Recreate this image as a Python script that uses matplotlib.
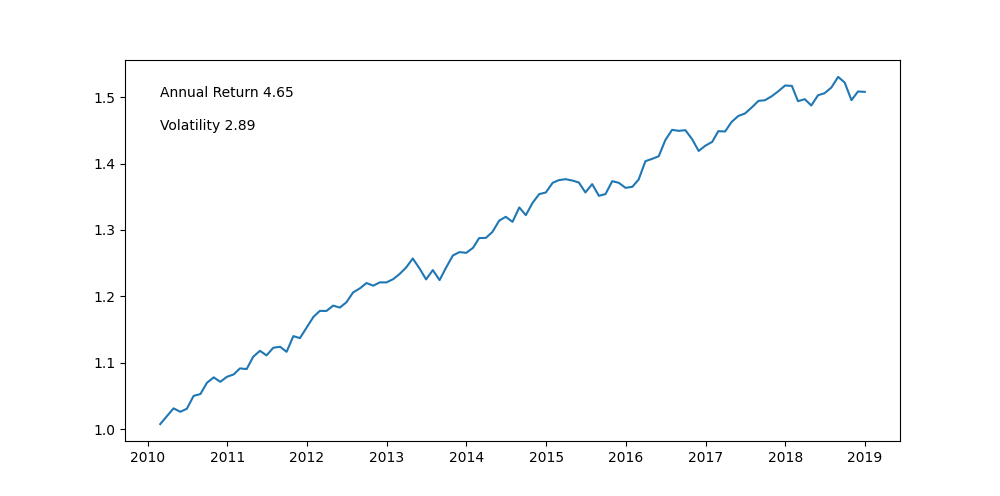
import numpy as np
import pandas as pd
import matplotlib
matplotlib.use("Agg")
import matplotlib.pyplot as plt

# monthly cumulative value, Feb 2010 - Dec 2018
values = [
    1.0075, 1.0196, 1.0312, 1.0260, 1.0306, 1.0500, 1.0527, 1.0697, 1.0779, 1.0712,
    1.0788, 1.0824, 1.0914, 1.0904, 1.1089, 1.1179, 1.1110, 1.1225, 1.1240, 1.1164,
    1.1400, 1.1370, 1.1530, 1.1690, 1.1780, 1.1780, 1.1860, 1.1830, 1.1910, 1.2060,
    1.2120, 1.2200, 1.2160, 1.2210, 1.2210, 1.2260, 1.2334, 1.2435, 1.2570, 1.2420,
    1.2255, 1.2395, 1.2244, 1.2435, 1.2616, 1.2666, 1.2655, 1.2730, 1.2877, 1.2880,
    1.2970, 1.3140, 1.3198, 1.3122, 1.3339, 1.3223, 1.3408, 1.3539, 1.3565, 1.3710,
    1.3750, 1.3765, 1.3745, 1.3715, 1.3565, 1.3690, 1.3514, 1.3540, 1.3735, 1.3710,
    1.3634, 1.3650, 1.3760, 1.4036, 1.4070, 1.4110, 1.4352, 1.4508, 1.4493, 1.4503,
    1.4367, 1.4190, 1.4270, 1.4327, 1.4488, 1.4483, 1.4628, 1.4718, 1.4754, 1.4845,
    1.4944, 1.4955, 1.5015, 1.5090, 1.5176, 1.5170, 1.4940, 1.4970, 1.4875, 1.5030,
    1.5060, 1.5146, 1.5306, 1.5221, 1.4955, 1.5086, 1.5080,
]
dates = pd.date_range("2010-02-28", periods=len(values), freq="ME")

annual_return = 4.65
volatility = 2.89

fig, ax = plt.subplots(figsize=(10, 4.96), dpi=100)
ax.plot(dates, values)
ax.text(dates[0], 1.5, "Annual Return %.2f" % annual_return)
ax.text(dates[0], 1.45, "Volatility %.2f" % volatility)

fig.savefig("out.png")
